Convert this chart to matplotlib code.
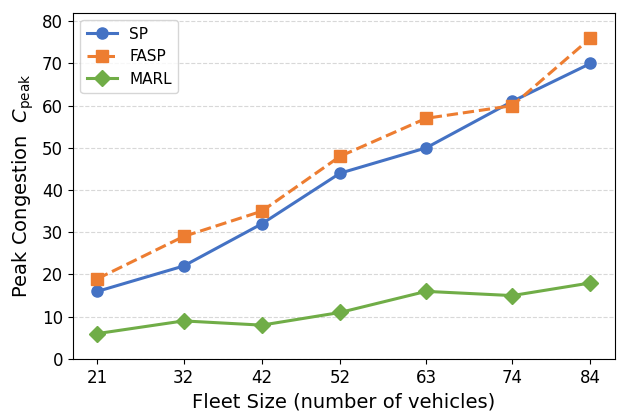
import matplotlib
matplotlib.use("Agg")
import matplotlib.pyplot as plt

fleet_sizes = [21, 32, 42, 52, 63, 74, 84]
sp = [16, 22, 32, 44, 50, 61, 70]
fasp = [19, 29, 35, 48, 57, 60, 76]
marl = [6, 9, 8, 11, 16, 15, 18]

fig = plt.figure(figsize=(6.17, 4.13), dpi=100)
ax = fig.add_axes([0.118, 0.131, 0.879, 0.838])

ax.plot(fleet_sizes, sp, color="#4472C4", marker="o", markersize=8,
        linewidth=2.2, label="SP")
ax.plot(fleet_sizes, fasp, color="#ED7D31", marker="s", markersize=8,
        linewidth=2.2, linestyle="--", label="FASP")
ax.plot(fleet_sizes, marl, color="#70AD47", marker="D", markersize=8,
        linewidth=2.2, label="MARL")

ax.set_xticks(fleet_sizes)
ax.set_ylim(0, 82)
ax.set_yticks(range(0, 81, 10))
ax.tick_params(labelsize=12)
ax.grid(axis="y", linestyle="--", color="#d8d8d8", linewidth=0.8)
ax.set_axisbelow(True)

ax.set_xlabel("Fleet Size (number of vehicles)", fontsize=14)
ax.set_ylabel(r"Peak Congestion  $C_{\mathrm{peak}}$", fontsize=14)

ax.legend(loc="upper left", fontsize=11)

fig.savefig("out.png", dpi=100)
